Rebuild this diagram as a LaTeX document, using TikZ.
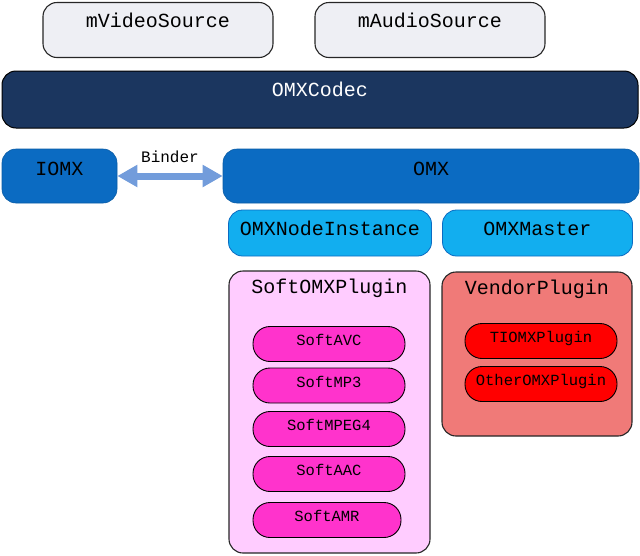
\documentclass[tikz,border=0pt]{standalone}
\usepackage{fontspec}
\setmonofont{Liberation Mono}
\usepackage{tikz}
\usetikzlibrary{arrows.meta,positioning}
\definecolor{srcgray}{HTML}{EEEFF4}
\definecolor{codecnavy}{HTML}{1B365F}
\definecolor{omxblue}{HTML}{0B6BC2}
\definecolor{nodecyan}{HTML}{12AEEF}
\definecolor{softbg}{HTML}{FFCCFF}
\definecolor{softmag}{HTML}{FF33CC}
\definecolor{vendorbg}{HTML}{F07A78}
\definecolor{vendorred}{HTML}{FF0000}
\definecolor{bindercol}{HTML}{729CDB}
\tikzset{
	box/.style = {align=center, inner sep=0pt, rounded corners=14pt,
		font=\ttfamily\fontsize{20}{24}\selectfont, text height=13pt},
	srcbox/.style = {box, fill=srcgray, draw=black!85, line width=1.1pt,
		minimum width=230pt, minimum height=55pt, text depth=19pt},% sources
	codecbox/.style = {box, fill=codecnavy, draw=black, line width=1pt, text=white,
		minimum width=636pt, minimum height=57pt, text depth=19pt},% OMXCodec
	omxbox/.style = {box, fill=omxblue, draw=omxblue!85!black, line width=0.6pt,
		minimum height=54pt, text depth=15pt},% IOMX / OMX
	compbox/.style = {box, fill=nodecyan, draw=omxblue, line width=0.8pt,
		minimum height=46pt, text depth=9pt},% OMXNodeInstance / OMXMaster
	plugbox/.style = {box, draw=black!85, line width=1.1pt, minimum width=201pt},% plugin
	plugtitle/.style = {inner sep=0pt, font=\ttfamily\fontsize{20}{24}\selectfont,
		text height=13pt, text depth=0pt},
	compo/.style = {box, draw=black, line width=0.9pt, rounded corners=17pt,
		minimum width=152pt, minimum height=35pt,
		font=\ttfamily\fontsize{15.5}{18}\selectfont, text height=10pt, text depth=7pt},% composant
	binder/.style = {draw=bindercol, line width=7pt,
		{Triangle[length=20pt,width=21pt]}-{Triangle[length=20pt,width=21pt]}}
}

\begin{document}
\begin{tikzpicture}[x=1pt,y=-1pt]
\useasboundingbox (0,0) rectangle (640,555);
% sources
\node [srcbox] (video) at (158,30) {mVideoSource};
\node [srcbox] (audio) at (430,30) {mAudioSource};
% codec
\node [codecbox] (codec) at (320,99.5) {OMXCodec};
% couche OMX
\node [omxbox, minimum width=115pt] (iomx) at (59.5,176) {IOMX};
\node [omxbox, minimum width=416pt] (omx) at (431,176) {OMX};
\draw [binder] (iomx.east) -- (omx.west)
	node [midway, yshift=19pt, inner sep=0pt, text=black,
		font=\ttfamily\fontsize{16}{19}\selectfont] (bindertxt) {Binder};
\node [compbox, minimum width=203pt] (nodeinst) at (330,233) {OMXNodeInstance};
\node [compbox, minimum width=190pt] (master) at (537.5,233) {OMXMaster};
% plugins
\node [plugbox, fill=softbg, minimum height=282pt] (soft) at (329.5,412) {};
\node [plugtitle, below=10pt of soft.north] (softtitle) {SoftOMXPlugin};
\node [compo, fill=softmag] (avc) at (329,344) {SoftAVC};
\node [compo, fill=softmag] (mp3) at (329,385.5) {SoftMP3};
\node [compo, fill=softmag] (mpeg4) at (329,429) {SoftMPEG4};
\node [compo, fill=softmag] (aac) at (329,474) {SoftAAC};
\node [compo, fill=softmag, minimum width=148pt] (amr) at (327,520) {SoftAMR};
\node [plugbox, fill=vendorbg, minimum width=190pt, minimum height=164pt] (vendor) at (537,354) {};
\node [plugtitle, below=10pt of vendor.north] (vendortitle) {VendorPlugin};
\node [compo, fill=vendorred] (ti) at (541,341) {TIOMXPlugin};
\node [compo, fill=vendorred] (other) at (541,384) {OtherOMXPlugin};
\end{tikzpicture}
\end{document}
